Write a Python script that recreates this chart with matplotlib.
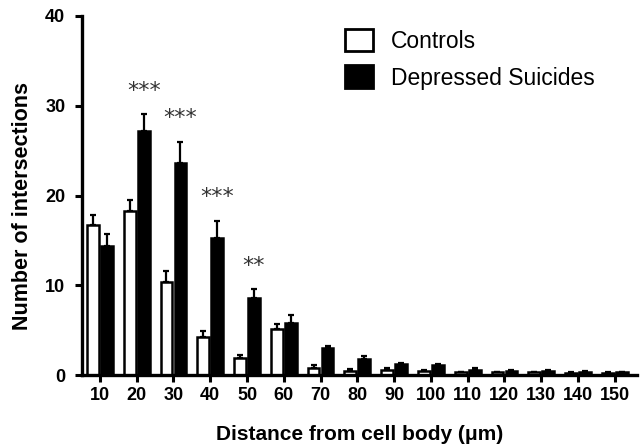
import matplotlib
matplotlib.use("Agg")
import matplotlib.pyplot as plt
import matplotlib.patches as mpatches
import numpy as np

plt.rcParams["font.family"] = ["Liberation Sans", "DejaVu Sans"]

distance = [10, 20, 30, 40, 50, 60, 70, 80, 90, 100, 110, 120, 130, 140, 150]
controls = [16.7, 18.3, 10.4, 4.3, 1.9, 5.1, 0.8, 0.5, 0.55, 0.45, 0.3, 0.3, 0.3, 0.2, 0.2]
controls_sem = [1.1, 1.2, 1.2, 0.6, 0.4, 0.6, 0.3, 0.2, 0.2, 0.1, 0.1, 0.1, 0.1, 0.1, 0.1]
depressed = [14.4, 27.2, 23.6, 15.3, 8.6, 5.8, 3.0, 1.8, 1.2, 1.1, 0.6, 0.5, 0.45, 0.35, 0.3]
depressed_sem = [1.3, 1.9, 2.4, 1.9, 1.0, 0.9, 0.3, 0.3, 0.2, 0.2, 0.15, 0.1, 0.1, 0.1, 0.1]
signif = {20: "***", 30: "***", 40: "***", 50: "**"}

x = np.array(distance, dtype=float)
w = 3.2
off = 1.9

fig = plt.figure(figsize=(6.4, 4.44), dpi=100)
ax = fig.add_axes([0.128, 0.155, 0.867, 0.809])

ax.bar(x - off, controls, width=w, color="white", edgecolor="black", linewidth=1.8, zorder=2)
ax.bar(x + off, depressed, width=w, color="black", edgecolor="black", linewidth=1.8, zorder=2)
ax.errorbar(x - off, controls, yerr=[np.zeros(len(x)), controls_sem], fmt="none",
            ecolor="black", elinewidth=1.6, capsize=2.5, capthick=1.6, zorder=1)
ax.errorbar(x + off, depressed, yerr=[np.zeros(len(x)), depressed_sem], fmt="none",
            ecolor="black", elinewidth=1.6, capsize=2.5, capthick=1.6, zorder=1)

# significance stars above the depressed bars
for d, s in signif.items():
    i = distance.index(d)
    ax.text(d + off, depressed[i] + depressed_sem[i] + 2.6, s, ha="center", va="center",
            fontsize=16, color="#333333", family="DejaVu Sans")

ax.set_xlim(5.1, 156)
ax.set_ylim(0, 40)
ax.set_xticks(distance)
ax.set_yticks([0, 10, 20, 30, 40])
for sp in ["top", "right"]:
    ax.spines[sp].set_visible(False)
for sp in ["left", "bottom"]:
    ax.spines[sp].set_linewidth(2.4)
ax.tick_params(axis="both", width=2.2, length=5, labelsize=13)
ax.tick_params(axis="y", pad=7)
for lab in ax.get_xticklabels() + ax.get_yticklabels():
    lab.set_fontweight("bold")
ax.set_xlabel("Distance from cell body (μm)", fontsize=15, fontweight="bold")
ax.set_ylabel("Number of intersections", fontsize=15.5, fontweight="bold")
ax.xaxis.set_label_coords(0.501, -0.139)
ax.yaxis.set_label_coords(-0.089, 0.472)

handles = [
    mpatches.Patch(facecolor="white", edgecolor="black", linewidth=2, label="Controls"),
    mpatches.Patch(facecolor="black", edgecolor="black", linewidth=2, label="Depressed Suicides"),
]
ax.legend(handles=handles, loc="upper left", bbox_to_anchor=(0.437, 1.022), frameon=False,
          fontsize=16.5, handlelength=1.2, handleheight=1.15, labelspacing=0.55, handletextpad=0.8)

fig.savefig("out.png", dpi=100)
